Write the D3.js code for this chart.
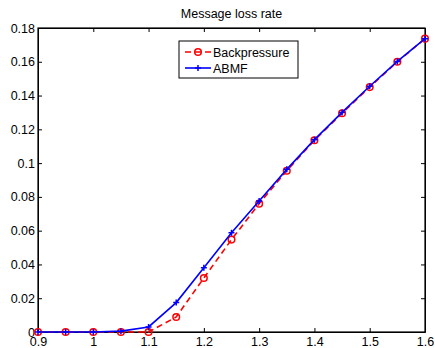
<!DOCTYPE html>
<html>
<head>
<meta charset="utf-8">
<script src="https://cdn.jsdelivr.net/npm/d3@7/dist/d3.min.js"></script>
<style>
	body { margin: 0; background: #fff; }
	svg { display: block; font-family: "Liberation Sans", Arial, sans-serif; }
	.axis text { font-size: 12.5px; fill: #000; }
</style>
</head>
<body>
<script>
var xValues = [0.9, 0.95, 1.0, 1.05, 1.1, 1.15, 1.2, 1.25, 1.3, 1.35, 1.4, 1.45, 1.5, 1.55, 1.6];
var backpressure = [0, 0, 0, 0, 0, 0.0089, 0.032, 0.0547, 0.076, 0.0955, 0.1135, 0.1295, 0.145, 0.16, 0.1737];
var abmf = [0, 0, 0, 0.0005, 0.003, 0.0174, 0.038, 0.0588, 0.0776, 0.0963, 0.1139, 0.130, 0.1455, 0.1602, 0.1737];
var xTicks = [0.9, 1, 1.1, 1.2, 1.3, 1.4, 1.5, 1.6];
var yTicks = [0, 0.02, 0.04, 0.06, 0.08, 0.1, 0.12, 0.14, 0.16, 0.18];

var width = 435, height = 348;
var margin = { left: 38, top: 28, right: 10, bottom: 16 };

var svg = d3.select('body').append('svg')
	.attr('width', width)
	.attr('height', height);

var x = d3.scaleLinear().domain([0.9, 1.6]).range([margin.left, width - margin.right]);
var y = d3.scaleLinear().domain([0, 0.18]).range([height - margin.bottom, margin.top]);

var fmt = function (d) { return String(+d.toFixed(2)); };

// axes, ticks pointing inward like matlab
svg.append('g')
	.attr('class', 'axis')
	.attr('transform', 'translate(0,' + y(0) + ')')
	.call(d3.axisBottom(x).tickValues(xTicks).tickFormat(fmt).tickSizeInner(-4).tickSizeOuter(0).tickPadding(5));

svg.append('g')
	.attr('class', 'axis')
	.attr('transform', 'translate(' + x(0.9) + ',0)')
	.call(d3.axisLeft(y).tickValues(yTicks).tickFormat(fmt).tickSizeInner(-4).tickSizeOuter(0).tickPadding(3));

svg.append('g')
	.attr('transform', 'translate(0,' + y(0.18) + ')')
	.call(d3.axisTop(x).tickValues(xTicks).tickFormat('').tickSizeInner(-4).tickSizeOuter(0));

svg.append('g')
	.attr('transform', 'translate(' + x(1.6) + ',0)')
	.call(d3.axisRight(y).tickValues(yTicks).tickFormat('').tickSizeInner(-4).tickSizeOuter(0));

svg.selectAll('.domain').attr('stroke', '#000');
svg.selectAll('.tick line').attr('stroke', '#000');

svg.append('rect')
	.attr('x', x(0.9))
	.attr('y', y(0.18))
	.attr('width', x(1.6) - x(0.9))
	.attr('height', y(0) - y(0.18))
	.attr('fill', 'none')
	.attr('stroke', '#000')
	.attr('stroke-width', 1.2);

svg.append('text')
	.attr('x', (x(0.9) + x(1.6)) / 2)
	.attr('y', 18)
	.attr('text-anchor', 'middle')
	.style('font-size', '12.5px')
	.text('Message loss rate');

var line = function (vals) {
	return d3.line()
		.x(function (d, i) { return x(xValues[i]); })
		.y(function (d) { return y(d); })(vals);
};

// Backpressure
svg.append('path')
	.attr('d', line(backpressure))
	.attr('fill', 'none')
	.attr('stroke', '#f00')
	.attr('stroke-width', 1.6)
	.attr('stroke-dasharray', '6,4');

svg.selectAll('.bp').data(backpressure).enter().append('circle')
	.attr('cx', function (d, i) { return x(xValues[i]); })
	.attr('cy', function (d) { return y(d); })
	.attr('r', 3.3)
	.attr('fill', 'none')
	.attr('stroke', '#f00')
	.attr('stroke-width', 1.5);

// ABMF
svg.append('path')
	.attr('d', line(abmf))
	.attr('fill', 'none')
	.attr('stroke', '#00f')
	.attr('stroke-width', 1.6);

svg.selectAll('.ab').data(abmf).enter().append('path')
	.attr('transform', function (d, i) { return 'translate(' + [x(xValues[i]), y(d)] + ')'; })
	.attr('d', 'M-3,0H3M0,-3V3')
	.attr('stroke', '#00f')
	.attr('stroke-width', 1.5);

// legend
var legend = svg.append('g').attr('transform', 'translate(179,41)');

legend.append('rect')
	.attr('width', 119)
	.attr('height', 37)
	.attr('fill', '#fff')
	.attr('stroke', '#000')
	.attr('stroke-width', 1);

legend.append('line')
	.attr('x1', 6).attr('x2', 32).attr('y1', 11).attr('y2', 11)
	.attr('stroke', '#f00').attr('stroke-width', 1.6).attr('stroke-dasharray', '6,4');
legend.append('circle')
	.attr('cx', 19).attr('cy', 11).attr('r', 3.3)
	.attr('fill', 'none').attr('stroke', '#f00').attr('stroke-width', 1.5);
legend.append('text')
	.attr('x', 34).attr('y', 15.5)
	.style('font-size', '12.5px')
	.text('Backpressure');

legend.append('line')
	.attr('x1', 6).attr('x2', 32).attr('y1', 27).attr('y2', 27)
	.attr('stroke', '#00f').attr('stroke-width', 1.6);
legend.append('path')
	.attr('d', 'M16,27H22M19,24V30')
	.attr('stroke', '#00f').attr('stroke-width', 1.5);
legend.append('text')
	.attr('x', 34).attr('y', 31.5)
	.style('font-size', '12.5px')
	.text('ABMF');
</script>
</body>
</html>
